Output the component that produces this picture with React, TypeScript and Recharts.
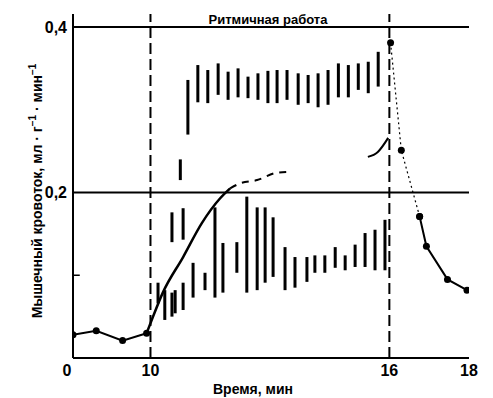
import React from 'react';
import {
  ComposedChart,
  Line,
  Bar,
  XAxis,
  YAxis,
  ReferenceLine,
} from 'recharts';

// ---- Data (time in minutes, flow in ml·g⁻¹·min⁻¹) ----
const preTimes = [0, 3, 6.4, 9.5];
const preFlow = [0.028, 0.033, 0.021, 0.03];

const riseTimes = [9.5, 10, 10.31, 10.82, 11.29, 11.75, 12.0];
const riseFlow = [0.03, 0.042, 0.079, 0.122, 0.163, 0.193, 0.205];

const trendTimes = [12.0, 12.25, 12.68, 13.18, 13.5];
const trendFlow = [0.205, 0.211, 0.215, 0.224, 0.225];

const endTimes = [15.46, 15.71, 15.97];
const endFlow = [0.243, 0.249, 0.266];

const recoveryTimes = [16.03, 16.3, 16.76, 16.93, 17.46, 17.95];
const recoveryFlow = [0.381, 0.251, 0.171, 0.135, 0.095, 0.082];

// Oscillating flow during rhythmic contractions (upper envelope)
const upperTimes = [
  10.94, 11.19, 11.44, 11.7, 11.95, 12.2, 12.45, 12.7, 12.95, 13.18,
  13.43, 13.71, 13.96, 14.21, 14.46, 14.72, 14.97, 15.22, 15.47, 15.72,
];
const upperLow = [
  0.27, 0.309, 0.308, 0.318, 0.312, 0.315, 0.314, 0.312, 0.308, 0.308,
  0.312, 0.306, 0.308, 0.303, 0.306, 0.315, 0.315, 0.324, 0.32, 0.328,
];
const upperHigh = [
  0.336, 0.354, 0.348, 0.356, 0.346, 0.35, 0.34, 0.344, 0.347, 0.348,
  0.348, 0.344, 0.342, 0.344, 0.348, 0.356, 0.354, 0.356, 0.358, 0.37,
];

// Oscillating flow during rhythmic contractions (lower envelope)
const lowerTimes = [
  10.19, 10.36, 10.54, 10.54, 10.62, 10.75, 10.82, 10.82, 11.07, 11.37,
  11.62, 11.82, 12.17, 12.42, 12.68, 12.88, 13.08, 13.38, 13.63, 13.93,
  14.13, 14.38, 14.64, 14.89, 15.14, 15.39, 15.64, 15.89,
];
const lowerLow = [
  0.066, 0.046, 0.05, 0.14, 0.054, 0.215, 0.058, 0.143, 0.073, 0.082,
  0.073, 0.079, 0.103, 0.079, 0.082, 0.091, 0.098, 0.082, 0.085, 0.092,
  0.103, 0.103, 0.109, 0.106, 0.11, 0.11, 0.106, 0.106,
];
const lowerHigh = [
  0.091, 0.082, 0.079, 0.176, 0.082, 0.24, 0.091, 0.181, 0.115, 0.103,
  0.182, 0.139, 0.14, 0.195, 0.182, 0.182, 0.17, 0.134, 0.122, 0.122,
  0.124, 0.124, 0.134, 0.124, 0.137, 0.151, 0.155, 0.167,
];

const xTickValues = [0, 10, 16, 18];
const xTickLabels = ['0', '10', '16', '18'];
const yTickValues = [0.2, 0.4];
const yTickLabels = ['0,2', '0,4'];

const titleText = 'Ритмичная работа';
const xTitle = 'Время, мин';

// ---- Broken time axis: first 10 min compressed ----
const COMPRESS = 0.1946;
const toAxis = (t: number) => (t <= 10 ? t * COMPRESS : 10 * COMPRESS + (t - 10));

const series = (times: number[], values: number[]) =>
  times.map((t, i) => ({ u: toAxis(t), v: values[i] }));

const preData = series(preTimes, preFlow);
const riseData = series(riseTimes, riseFlow);
const trendData = series(trendTimes, trendFlow);
const endData = series(endTimes, endFlow);
const recAll = series(recoveryTimes, recoveryFlow);
const recDotted = recAll.slice(0, 3);
const recSolid = recAll.slice(2);

const barData = [
  ...upperTimes.map((t, i) => ({ u: toAxis(t), range: [upperLow[i], upperHigh[i]] })),
  ...lowerTimes.map((t, i) => ({ u: toAxis(t), range: [lowerLow[i], lowerHigh[i]] })),
].sort((a, b) => a.u - b.u);

const FONT = '"Liberation Sans", Arial, sans-serif';

const XTick = (props: any) => {
  const { x, y, payload } = props;
  const idx = xTickValues.findIndex((t) => Math.abs(toAxis(t) - payload.value) < 1e-6);
  const label = idx >= 0 ? xTickLabels[idx] : '';
  return (
    <text
      x={x + (idx === 0 ? -6 : 0)}
      y={y}
      dy="0.71em"
      textAnchor="middle"
      fontFamily={FONT}
      fontSize={16}
      fontWeight="bold"
      fill="#000"
    >
      {label}
    </text>
  );
};

const YTick = (props: any) => {
  const { x, y, payload } = props;
  const idx = yTickValues.findIndex((v) => Math.abs(v - payload.value) < 1e-6);
  const label = idx >= 0 ? yTickLabels[idx] : '';
  return (
    <text
      x={x}
      y={y}
      dy="0.36em"
      textAnchor="end"
      fontFamily={FONT}
      fontSize={16}
      fontWeight="bold"
      fill="#000"
    >
      {label}
    </text>
  );
};

const YLabel = (props: any) => {
  const vb = props.viewBox || {};
  const cx = vb.x + 24;
  const cy = vb.y + vb.height / 2 + 5;
  return (
    <text
      x={cx}
      y={cy}
      transform={`rotate(-90, ${cx}, ${cy})`}
      textAnchor="middle"
      dominantBaseline="central"
      fontFamily={FONT}
      fontSize={14}
      fontWeight="bold"
      fill="#000"
    >
      Мышечный кровоток, мл · г
      <tspan dy={-5} fontSize={10}>−1</tspan>
      <tspan dy={5}> · мин</tspan>
      <tspan dy={-5} fontSize={10}>−1</tspan>
    </text>
  );
};

const XLabel = (props: any) => {
  const vb = props.viewBox || {};
  const cx = vb.x + vb.width / 2 - 18;
  const cy = vb.y + 31;
  return (
    <text
      x={cx}
      y={cy}
      textAnchor="middle"
      dominantBaseline="central"
      fontFamily={FONT}
      fontSize={14}
      fontWeight="bold"
      fill="#000"
    >
      {xTitle}
    </text>
  );
};

const TitleLabel = (props: any) => {
  const vb = props.viewBox || {};
  const cx = vb.x + vb.width / 2 - 3;
  const cy = vb.y - 3;
  return (
    <text
      x={cx}
      y={cy}
      textAnchor="middle"
      fontFamily={FONT}
      fontSize={13}
      fontWeight="bold"
      fill="#000"
    >
      {titleText}
    </text>
  );
};

const RangeBar = (props: any) => {
  const { x, y, width, height } = props;
  if (x == null || y == null || height == null) return null;
  const cx = x + (width || 0) / 2;
  return <rect x={cx - 1.5} y={y} width={3} height={Math.max(1, Math.abs(height))} fill="#000" />;
};

export default function App() {
  const xMax = toAxis(18);
  return (
    <div style={{ position: 'absolute', left: 0, top: 0, width: 493, height: 398, background: '#fff' }}>
      <ComposedChart
        width={493}
        height={398}
        data={barData}
        margin={{ top: 14, right: 24, bottom: 0, left: 13 }}
      >
        <XAxis
          type="number"
          dataKey="u"
          domain={[0, xMax]}
          ticks={xTickValues.map(toAxis)}
          tick={<XTick />}
          tickLine={false}
          tickSize={0}
          tickMargin={7}
          height={40}
          axisLine={{ stroke: '#000', strokeWidth: 2 }}
          allowDataOverflow
          label={<XLabel />}
        />
        <YAxis
          type="number"
          domain={[0, 0.4157]}
          ticks={yTickValues}
          tick={<YTick />}
          tickLine={false}
          tickSize={0}
          tickMargin={6}
          width={60}
          axisLine={{ stroke: '#000', strokeWidth: 2 }}
          allowDataOverflow
          label={<YLabel />}
        />
        <ReferenceLine y={0.2} stroke="#000" strokeWidth={2} />
        <ReferenceLine y={0.4} stroke="#000" strokeWidth={2} label={<TitleLabel />} />
        <ReferenceLine
          segment={[{ x: 0, y: 0.1 }, { x: 0.17, y: 0.1 }]}
          stroke="#000"
          strokeWidth={1.5}
        />
        <ReferenceLine x={toAxis(10)} stroke="#000" strokeWidth={2} strokeDasharray="11 5" />
        <ReferenceLine x={toAxis(16)} stroke="#000" strokeWidth={2} strokeDasharray="11 5" />

        <Bar dataKey="range" fill="#000" barSize={3} shape={<RangeBar />} isAnimationActive={false} />

        <Line
          data={preData}
          dataKey="v"
          type="linear"
          stroke="#000"
          strokeWidth={2}
          dot={{ r: 3.5, fill: '#000', stroke: '#000', strokeWidth: 0 }}
          isAnimationActive={false}
        />
        <Line
          data={riseData}
          dataKey="v"
          type="monotone"
          stroke="#000"
          strokeWidth={2.5}
          dot={false}
          isAnimationActive={false}
        />
        <Line
          data={trendData}
          dataKey="v"
          type="monotone"
          stroke="#000"
          strokeWidth={2}
          strokeDasharray="7 6"
          dot={false}
          isAnimationActive={false}
        />
        <Line
          data={endData}
          dataKey="v"
          type="monotone"
          stroke="#000"
          strokeWidth={2}
          dot={false}
          isAnimationActive={false}
        />
        <Line
          data={recDotted}
          dataKey="v"
          type="linear"
          stroke="#000"
          strokeWidth={1.2}
          strokeDasharray="2 3"
          dot={{ r: 3.5, fill: '#000', stroke: '#000', strokeWidth: 0 }}
          isAnimationActive={false}
        />
        <Line
          data={recSolid}
          dataKey="v"
          type="linear"
          stroke="#000"
          strokeWidth={2}
          dot={{ r: 3.5, fill: '#000', stroke: '#000', strokeWidth: 0 }}
          isAnimationActive={false}
        />
      </ComposedChart>
    </div>
  );
}
